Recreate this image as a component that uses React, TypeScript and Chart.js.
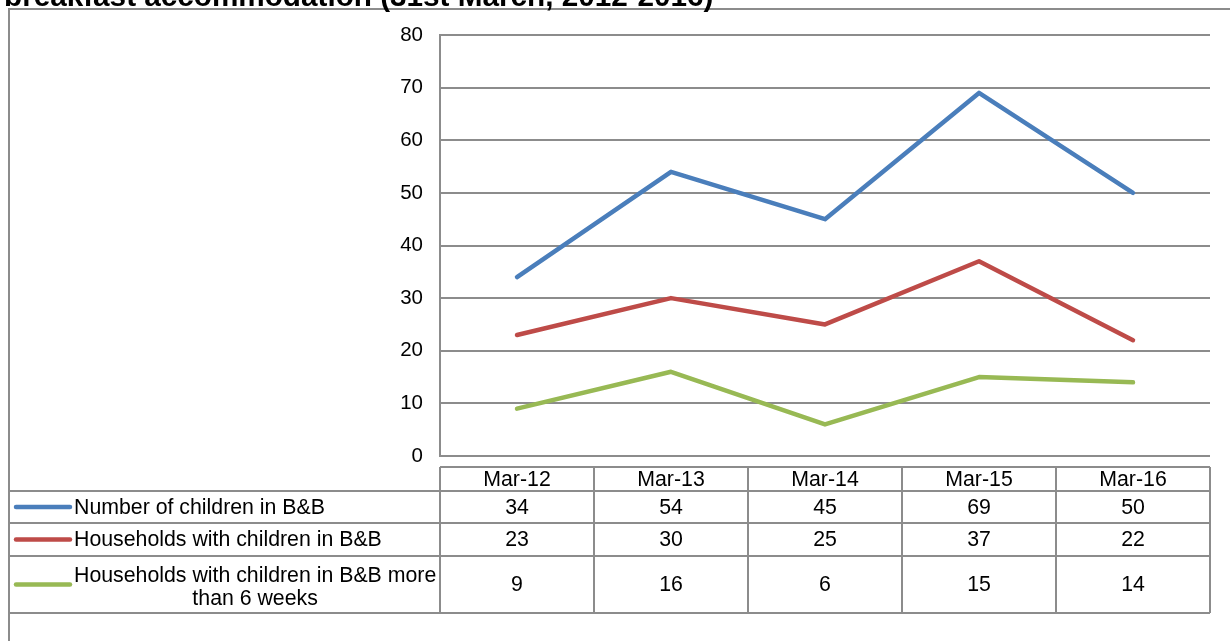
import React, { useEffect, useRef } from "react";
import { Chart, registerables } from "chart.js";

Chart.register(...registerables);

const titleText = "breakfast accommodation (31st March, 2012-2016)";
const categories = ["Mar-12", "Mar-13", "Mar-14", "Mar-15", "Mar-16"];
const childrenInBB = [34, 54, 45, 69, 50];
const householdsInBB = [23, 30, 25, 37, 22];
const householdsOver6Weeks = [9, 16, 6, 15, 14];
const seriesLabels: string[][] = [
  ["Number of children in B&B"],
  ["Households with children in B&B"],
  ["Households with children in B&B more", "than 6 weeks"],
];
const seriesColors = ["#4a7ebb", "#be4b48", "#98b954"];
const yMin = 0;
const yMax = 80;
const yStep = 10;

const FONT = "'Liberation Sans', Arial, sans-serif";
const GRID = "#8c8c8c";
const FS = 20.5;
const TFS = 21.3;

const tablePlugin = {
  id: "dataTable",
  afterDraw(chart: any) {
    const ctx = chart.ctx as CanvasRenderingContext2D;
    const area = chart.chartArea;
    const xs = chart.scales.x;
    const n = categories.length;
    const colW = (area.right - area.left) / n;
    const tableLeft = 9;
    const legendColRight = area.left;
    const headerTop = area.bottom + 11;
    const rowLines = [headerTop + 24, headerTop + 56, headerTop + 89, headerTop + 146];
    ctx.save();

    // frame
    ctx.strokeStyle = GRID;
    ctx.lineWidth = 2;
    ctx.strokeRect(9, 9, chart.width + 10, chart.height + 10);

    // title
    ctx.fillStyle = "#000";
    ctx.font = `bold 29.7px ${FONT}`;
    ctx.textAlign = "left";
    ctx.textBaseline = "alphabetic";
    ctx.fillText(titleText, 4, 6);

    // table grid
    ctx.strokeStyle = GRID;
    ctx.lineWidth = 2;
    ctx.beginPath();
    ctx.moveTo(legendColRight, headerTop);
    ctx.lineTo(area.right, headerTop);
    rowLines.forEach((y) => {
      ctx.moveTo(tableLeft, y);
      ctx.lineTo(area.right, y);
    });
    for (let i = 0; i <= n; i++) {
      const x = area.left + i * colW;
      ctx.moveTo(x, headerTop);
      ctx.lineTo(x, rowLines[rowLines.length - 1]);
    }
    ctx.stroke();

    // header text
    ctx.font = `${TFS}px ${FONT}`;
    ctx.fillStyle = "#000";
    ctx.textAlign = "center";
    ctx.textBaseline = "middle";
    categories.forEach((c, i) => {
      ctx.fillText(c, xs.getPixelForValue(i), (headerTop + rowLines[0]) / 2 + 1);
    });

    const allData = [childrenInBB, householdsInBB, householdsOver6Weeks];
    allData.forEach((arr, r) => {
      const top = rowLines[r];
      const bottom = rowLines[r + 1];
      const cy = (top + bottom) / 2 + 1;
      arr.forEach((v, i) => {
        ctx.textAlign = "center";
        ctx.fillText(String(v), xs.getPixelForValue(i), cy);
      });
      // legend key line
      ctx.strokeStyle = seriesColors[r];
      ctx.lineWidth = 4.5;
      ctx.lineCap = "round";
      ctx.beginPath();
      ctx.moveTo(16, cy - 1);
      ctx.lineTo(70, cy - 1);
      ctx.stroke();
      // legend label
      const lines = seriesLabels[r];
      const w0 = ctx.measureText(lines[0]).width;
      const centerX = 74 + w0 / 2;
      const lh = 23;
      const shift = lines.length > 1 ? 2 : 0;
      lines.forEach((ln, k) => {
        const y = cy + shift + (k - (lines.length - 1) / 2) * lh;
        ctx.textAlign = "center";
        ctx.fillText(ln, centerX, y);
      });
    });
    ctx.restore();
  },
};

export default function App() {
  const ref = useRef<HTMLCanvasElement | null>(null);
  useEffect(() => {
    if (!ref.current) return;
    const chart = new Chart(ref.current, {
      type: "line",
      data: {
        labels: categories,
        datasets: [childrenInBB, householdsInBB, householdsOver6Weeks].map((d, i) => ({
          label: seriesLabels[i].join(" "),
          data: d,
          borderColor: seriesColors[i],
          backgroundColor: seriesColors[i],
          borderWidth: 4.5,
          pointRadius: 0,
          tension: 0,
          borderJoinStyle: "round" as const,
          borderCapStyle: "round" as const,
        })),
      },
      options: {
        responsive: false,
        animation: false,
        devicePixelRatio: 1,
        layout: { padding: { left: 0, right: 20, top: 35, bottom: 185 } },
        plugins: { legend: { display: false }, tooltip: { enabled: false }, title: { display: false } },
        scales: {
          x: {
            type: "category",
            offset: true,
            display: false,
            grid: { display: false },
          },
          y: {
            min: yMin,
            max: yMax,
            afterFit(scale: any) {
              scale.width = 440;
            },
            ticks: {
              stepSize: yStep,
              color: "#000",
              font: { family: FONT, size: FS },
              padding: 17,
            },
            grid: { color: GRID, lineWidth: 2, drawTicks: false },
            border: { display: true, color: GRID, width: 2 },
          },
        },
      },
      plugins: [tablePlugin],
    });
    return () => chart.destroy();
  }, []);
  return (
    <div style={{ position: "absolute", left: 0, top: 0, width: 1230, height: 641, background: "#fff" }}>
      <canvas ref={ref} width={1230} height={641} style={{ width: 1230, height: 641, display: "block" }} />
    </div>
  );
}
